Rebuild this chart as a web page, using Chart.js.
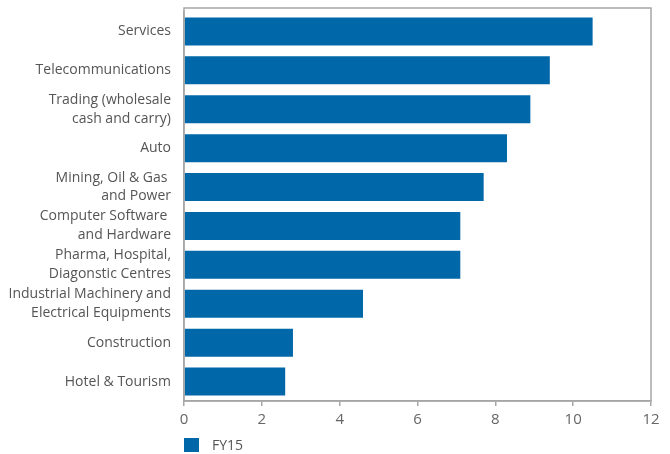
<!DOCTYPE html>
<html>
<head>
<meta charset="utf-8">
<script src="https://cdn.jsdelivr.net/npm/chart.js@4/dist/chart.umd.min.js"></script>
<style>
  html, body { margin: 0; padding: 0; background: #fff; }
  #wrap { position: relative; width: 670px; height: 454px; }
  #legend {
    position: absolute; left: 184px; top: 435px;
    display: flex; align-items: center;
    font: 14px "Open Sans", sans-serif; color: #555;
  }
  #legend .swatch { width: 15px; height: 14px; margin-right: 13px; }
</style>
</head>
<body>
<div id="wrap">
  <canvas id="sectorChart" width="670" height="454"></canvas>
  <div id="legend"><span class="swatch"></span><span id="legendText"></span></div>
</div>
<script>
// sectors, top to bottom (multi-line labels as arrays)
const sectors = [
    'Services',
    'Telecommunications',
    ['Trading (wholesale', 'cash and carry)'],
    'Auto',
    ['Mining, Oil & Gas ', 'and Power'],
    ['Computer Software ', 'and Hardware'],
    ['Pharma, Hospital,', 'Diagonstic Centres'],
    ['Industrial Machinery and', 'Electrical Equipments'],
    'Construction',
    'Hotel & Tourism'
];
const fy15 = [10.5, 9.4, 8.9, 8.3, 7.7, 7.1, 7.1, 4.6, 2.8, 2.6];
const xTicks = [0, 2, 4, 6, 8, 10, 12];
const seriesName = 'FY15';

const barColor = '#0067a9';
const axisColor = '#a6a6a6';
const textColor = '#555555';

// grey frame round the plot area, with a little headroom above the first bar
const frame = {
    id: 'frame',
    afterDatasetsDraw(chart) {
        const { ctx, chartArea: a } = chart;
        const top = a.top - 4;
        ctx.save();
        ctx.strokeStyle = axisColor;
        ctx.lineWidth = 1.5;
        ctx.strokeRect(a.left, top, a.right - a.left, a.bottom - top);
        ctx.restore();
    }
};

document.querySelector('#legend .swatch').style.background = barColor;
document.getElementById('legendText').textContent = seriesName;

new Chart(document.getElementById('sectorChart'), {
    type: 'bar',
    data: {
        labels: sectors,
        datasets: [{
            label: seriesName,
            data: fy15,
            backgroundColor: barColor,
            categoryPercentage: 1,
            barPercentage: 0.72
        }]
    },
    options: {
        indexAxis: 'y',
        responsive: false,
        animation: false,
        layout: { padding: { left: 0, right: 19, top: 12, bottom: 29 } },
        plugins: {
            legend: { display: false },
            tooltip: { enabled: false }
        },
        scales: {
            x: {
                min: 0,
                max: 12,
                afterBuildTicks: (scale) => { scale.ticks = xTicks.map(v => ({ value: v })); },
                afterFit: (scale) => { scale.height = 24; },
                grid: { drawOnChartArea: false, drawTicks: true, tickLength: 5, color: axisColor, lineWidth: 1.5 },
                border: { color: axisColor, width: 1.5 },
                ticks: {
                    padding: 5,
                    color: '#666',
                    font: { family: '"Open Sans", sans-serif', size: 15 }
                }
            },
            y: {
                afterFit: (scale) => {
                    scale.width = 184;
                    scale.paddingTop = 0;
                    scale.paddingBottom = 0;
                },
                grid: { display: false, drawTicks: false },
                border: { color: axisColor, width: 1.5 },
                ticks: {
                    autoSkip: false,
                    padding: 13,
                    color: textColor,
                    font: { family: '"Open Sans", sans-serif', size: 14, lineHeight: 1.35 }
                }
            }
        }
    },
    plugins: [frame]
});
</script>
</body>
</html>
